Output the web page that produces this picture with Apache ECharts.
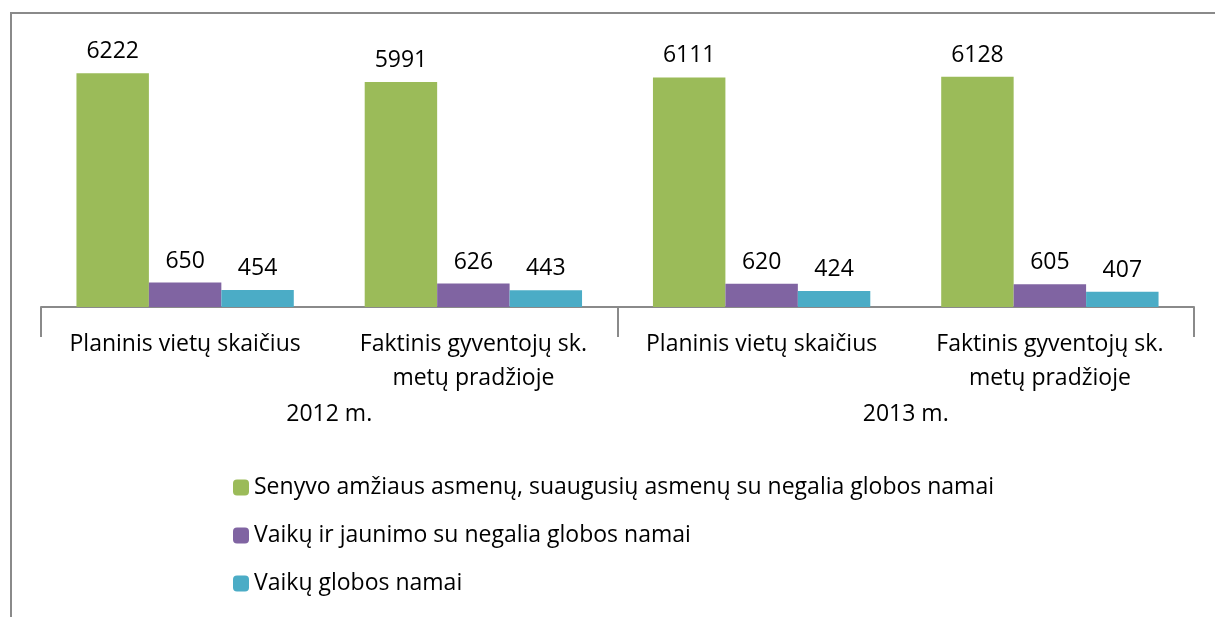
<!DOCTYPE html>
<html><head><meta charset="utf-8">
<script src="https://cdn.jsdelivr.net/npm/echarts@6/dist/echarts.min.js"></script>
<style>html,body{margin:0;padding:0;background:#fff}#c{width:1215px;height:617px}</style>
</head><body><div id="c"></div>
<script>
const categories = ['Planinis vietų skaičius', 'Faktinis gyventojų sk.\nmetų pradžioje', 'Planinis vietų skaičius', 'Faktinis gyventojų sk.\nmetų pradžioje'];
const groups = ['2012 m.', '2013 m.'];
const seriesNames = ['Senyvo amžiaus asmenų, suaugusių asmenų su negalia globos namai', 'Vaikų ir jaunimo su negalia globos namai', 'Vaikų globos namai'];
const seniorValues = [6222, 5991, 6111, 6128];
const youthValues = [650, 626, 620, 605];
const childValues = [454, 443, 424, 407];
const colors = ['#9BBB59', '#8064A2', '#4BACC6'];

const font = 'Open Sans';
const chart = echarts.init(document.getElementById('c'));
const mk = (name, data, color) => ({
  name, type: 'bar', data, xAxisIndex: 0, yAxisIndex: 0,
  barGap: '0%', barCategoryGap: '24.6%',
  itemStyle: { color },
  label: { show: true, position: 'top', distance: 10, color: '#000', fontFamily: font, fontSize: 23 }
});
chart.setOption({
  animation: false,
  graphic: [{ type: 'rect', shape: { x: 11, y: 13, width: 1400, height: 800 }, style: { fill: 'none', stroke: '#8a8a8a', lineWidth: 2 } }],
  grid: { left: 41, right: 21, top: 44, bottom: 310 },
  legend: {
    orient: 'vertical', left: 228, top: 471, itemWidth: 16, itemHeight: 16, itemGap: 25,
    textStyle: { fontFamily: font, fontSize: 23, color: '#000' },
    data: seriesNames
  },
  xAxis: [
    { type: 'category', data: categories, axisTick: { show: false },
      axisLine: { show: true, lineStyle: { color: '#8a8a8a', width: 2 } },
      axisLabel: { interval: 0, margin: 20, color: '#000', fontFamily: font, fontSize: 23, lineHeight: 34 } },
    { type: 'category', data: groups, position: 'bottom',
      axisLine: { show: false },
      axisTick: { show: true, length: 30, lineStyle: { color: '#8a8a8a', width: 2 } },
      axisLabel: { margin: 96, color: '#000', fontFamily: font, fontSize: 23 } }
  ],
  yAxis: { type: 'value', min: 0, max: 7000, show: false, splitLine: { show: false } },
  series: [mk(seriesNames[0], seniorValues, colors[0]), mk(seriesNames[1], youthValues, colors[1]), mk(seriesNames[2], childValues, colors[2])]
});
</script></body></html>
